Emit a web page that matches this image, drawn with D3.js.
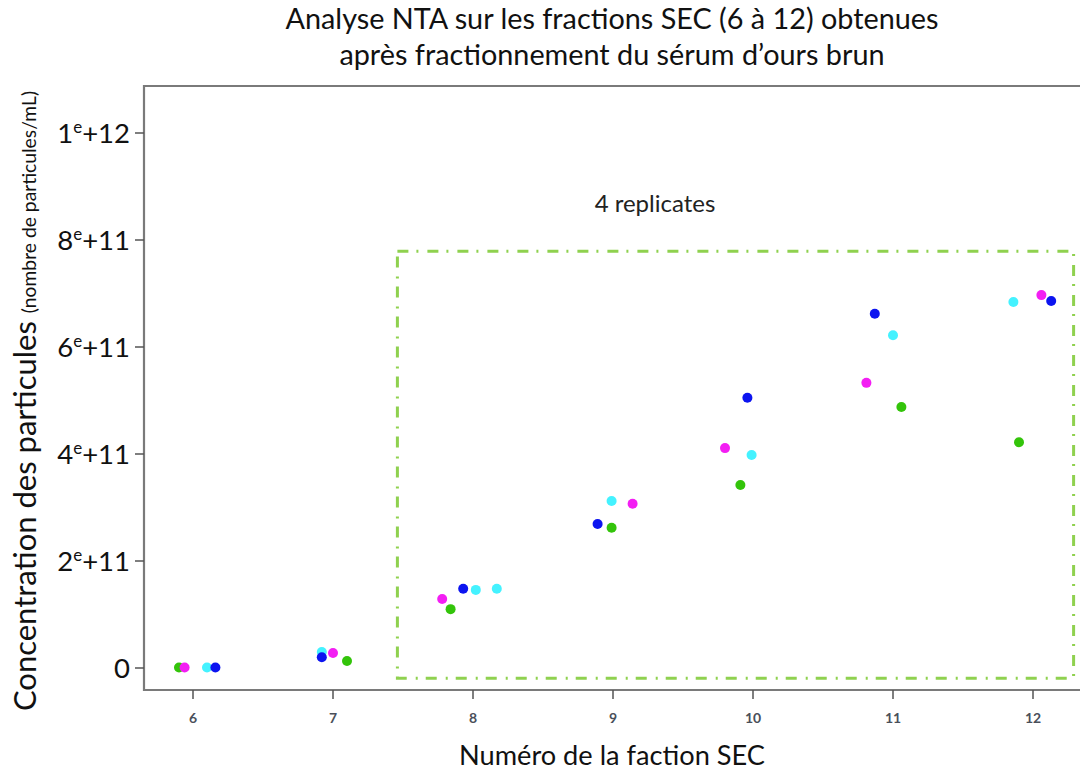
<!DOCTYPE html>
<html><head><meta charset="utf-8">
<script src="https://cdn.jsdelivr.net/npm/d3@7"></script>
<style>body{margin:0;background:#fff}svg{display:block}text{font-family:Lato,"Open Sans",sans-serif}</style>
</head><body><svg id="c" width="1080" height="774"></svg>
<script>
// Data
const fractions = [6,7,8,9,10,11,12];
const yTickValues = [0, 2e11, 4e11, 6e11, 8e11, 1e12];
const yTickMantissa = ["0","2","4","6","8","1"];
const yTickExponent = ["","+11","+11","+11","+11","+12"];
// points: x position on fraction axis (jittered as in picture), concentration, replicate colour group
const ptX =   [5.90,5.94,6.10,6.16, 6.92,6.92,7.00,7.10, 7.78,7.84,7.93,8.02,8.17, 8.89,8.99,8.99,9.14, 9.80,9.96,9.99,9.91, 10.81,10.87,11.00,11.06, 11.86,12.06,12.13,11.90];
const ptY =   [0.01e11,0.01e11,0.01e11,0.01e11, 0.30e11,0.20e11,0.28e11,0.13e11, 1.29e11,1.10e11,1.48e11,1.46e11,1.48e11, 2.69e11,2.62e11,3.12e11,3.07e11, 4.11e11,5.05e11,3.98e11,3.42e11, 5.33e11,6.62e11,6.22e11,4.88e11, 6.84e11,6.97e11,6.86e11,4.22e11];
const ptGrp = ["green","magenta","cyan","blue", "cyan","blue","magenta","green", "magenta","green","blue","cyan","cyan", "blue","green","cyan","magenta", "magenta","blue","cyan","green", "magenta","blue","cyan","green", "cyan","magenta","blue","green"];
const groupColors = {green:"#33c40a", magenta:"#f31ef3", cyan:"#44f2ff", blue:"#0c14f0"};
const boxX = [7.46, 12.29];
const boxY = [-0.19e11, 7.79e11];
const title = ["Analyse NTA sur les fractions SEC (6 à 12) obtenues", "après fractionnement du sérum d’ours brun"];

const svg = d3.select("#c");
const x = d3.scaleLinear().domain([6,12]).range([193,1033]);
const y = d3.scaleLinear().domain([0,1e12]).range([668,133]);

// title
svg.append("g").selectAll("text").data(title).join("text")
  .attr("x",612).attr("y",(d,i)=>29+i*36).attr("text-anchor","middle")
  .attr("font-size",28.8).attr("fill","#111").text(d=>d);

// frame
svg.append("path").attr("d","M1082,86H144V690H1082").attr("fill","none").attr("stroke","#7a7a7a").attr("stroke-width",2.2);

// y axis ticks
const yg = svg.append("g");
yg.selectAll("line").data(yTickValues).join("line")
  .attr("x1",135).attr("x2",144).attr("y1",d=>y(d)).attr("y2",d=>y(d)).attr("stroke","#555").attr("stroke-width",1.5);
const yl = yg.selectAll("text").data(yTickValues).join("text")
  .attr("x",130).attr("y",d=>y(d)+10).attr("text-anchor","end").attr("font-size",27.5).attr("fill","#111");
yl.append("tspan").text((d,i)=>yTickMantissa[i]);
yl.filter((d,i)=>yTickExponent[i]!=="").append("tspan").attr("font-size",17).attr("dy",-10).text("e");
yl.filter((d,i)=>yTickExponent[i]!=="").append("tspan").attr("dy",10).text(d=>yTickExponent[yTickValues.indexOf(d)]);

// x axis ticks
const xg = svg.append("g");
xg.selectAll("line").data(fractions).join("line")
  .attr("x1",d=>x(d)).attr("x2",d=>x(d)).attr("y1",690).attr("y2",699).attr("stroke","#555").attr("stroke-width",1.5);
xg.selectAll("text").data(fractions).join("text")
  .attr("x",d=>x(d)).attr("y",723).attr("text-anchor","middle").attr("font-size",14).attr("font-weight","bold").attr("fill","#4a4f5a").text(d=>d);

// axis titles
svg.append("text").attr("x",612).attr("y",765).attr("text-anchor","middle").attr("font-size",27.2).attr("fill","#111").text("Numéro de la faction SEC");
const yt = svg.append("text").attr("transform","translate(36,401) rotate(-90)").attr("text-anchor","middle").attr("font-size",31).attr("fill","#111");
yt.append("tspan").text("Concentration des particules ");
yt.append("tspan").attr("font-size",19.3).text("(nombre de particules/mL)");

// dashed box
svg.append("rect").attr("x",x(boxX[0])).attr("y",y(boxY[1])).attr("width",x(boxX[1])-x(boxX[0])).attr("height",y(boxY[0])-y(boxY[1]))
  .attr("fill","none").attr("stroke","#8fd14f").attr("stroke-width",3).attr("stroke-dasharray","11,8,2,9");
svg.append("text").attr("x",655).attr("y",212).attr("text-anchor","middle").attr("font-size",24).attr("fill","#222").text("4 replicates");

// points
svg.append("g").selectAll("circle").data(ptX).join("circle")
  .attr("cx",d=>x(d)).attr("cy",(d,i)=>y(ptY[i])).attr("r",5).attr("fill",(d,i)=>groupColors[ptGrp[i]]);
</script></body></html>
